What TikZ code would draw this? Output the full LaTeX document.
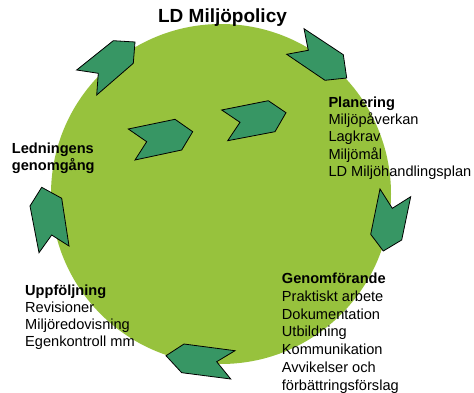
\documentclass[tikz,border=0pt]{standalone}
\usepackage{fontspec}
\setmainfont{Liberation Sans}
\definecolor{disc}{RGB}{151,194,61}
\definecolor{arrowgreen}{RGB}{55,150,100}
\begin{document}
\begin{tikzpicture}[x=1pt,y=-1pt,
  chev/.style={fill=arrowgreen,draw=black,line width=0.8pt,line join=miter},
  textblk/.style={anchor=base west,inner sep=0pt,font=\fontsize{14.6}{17.3}\selectfont},
  titletxt/.style={anchor=base,inner sep=0pt,font=\fontsize{19}{22}\selectfont\bfseries}]
\useasboundingbox (0,0) rectangle (474,393);
\fill[disc] (221,194) circle[radius=170];
% arrows
\draw[chev] (113.3,40.7) -- (135,42) -- (133.3,63.3) -- (96.7,95) -- (98.3,73.3) -- (76.7,70) -- cycle;
\draw[chev] (304,28.7) -- (308.3,50.3) -- (286.7,54.3) -- (325,80.3) -- (346.7,78) -- (343.3,54.7) -- cycle;
\draw[chev] (380,189) -- (392.3,208.3) -- (410.7,196.7) -- (401.7,240) -- (383.3,251) -- (370.7,234.3) -- cycle;
\draw[chev] (184,344) -- (235,350.7) -- (216.7,361.7) -- (230.7,379) -- (181.7,372.7) -- (166,355.7) -- cycle;
\draw[chev] (41.7,187.3) -- (61.7,198.3) -- (69,246) -- (51.7,235) -- (39,252.7) -- (30,206) -- cycle;
\draw[chev] (128.3,129) -- (175,119.3) -- (192.7,131.7) -- (181.7,150) -- (135,160) -- (146.7,141.7) -- cycle;
\draw[chev] (221.7,110) -- (268.3,100.7) -- (286,112.7) -- (275,131.7) -- (227.7,140.7) -- (240,122.3) -- cycle;
% texts
\node[titletxt] (title) at (222.5,23) {LD Miljöpolicy};
\node[textblk] (plan) at (328.3,107.3) {\vtop{\hbox{\bfseries Planering}\hbox{Miljöpåverkan}\hbox{Lagkrav}\hbox{Miljömål}\hbox{LD Miljöhandlingsplan}}};
\node[textblk] (led) at (11.7,153.3) {\vtop{\baselineskip=17.7pt\hbox{\bfseries Ledningens}\hbox{\bfseries genomgång}}};
\node[textblk] (upp) at (25,295) {\vtop{\hbox{\bfseries Uppföljning}\hbox{Revisioner}\hbox{Miljöredovisning}\hbox{Egenkontroll mm}}};
\node[textblk] (gen) at (281.7,283.5) {\vtop{\baselineskip=17.75pt\hbox{\bfseries Genomförande}\hbox{Praktiskt arbete}\hbox{Dokumentation}\hbox{Utbildning}\hbox{Kommunikation}\hbox{Avvikelser och}\hbox{förbättringsförslag}}};
\end{tikzpicture}
\end{document}
